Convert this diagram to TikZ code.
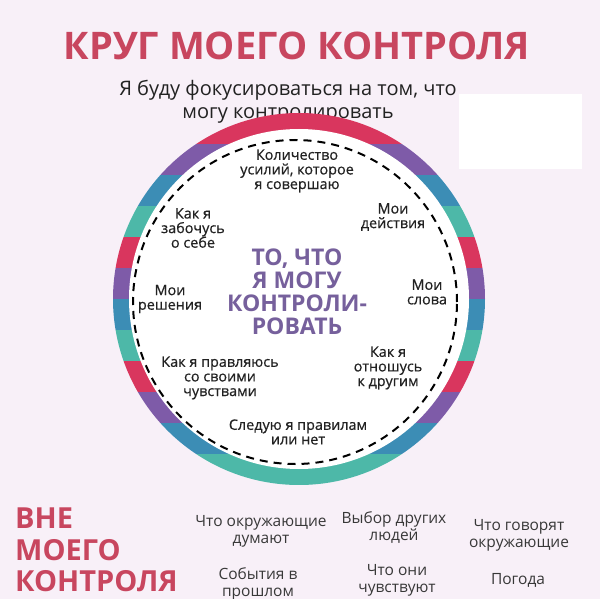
\documentclass[tikz,border=0pt]{standalone}
\usepackage{fontspec}
\setmainfont{Open Sans}
\newfontfamily\midfont[FakeBold=0.5]{Open Sans}
\definecolor{bgpink}{HTML}{F8F0F8}
\definecolor{titlered}{HTML}{C8465F}
\definecolor{ringred}{HTML}{D9365E}
\definecolor{ringpurple}{HTML}{7E5BA8}
\definecolor{ringblue}{HTML}{3C8DB5}
\definecolor{ringteal}{HTML}{4DB8A8}
\definecolor{midpurple}{HTML}{76609C}
\definecolor{inktext}{HTML}{222222}
\begin{document}
\begin{tikzpicture}[x=1pt,y=-1pt,
  inner/.style={align=center,inner sep=0pt,text=inktext,font=\midfont\fontsize{14.4}{14.6}\selectfont},
  outer/.style={align=center,inner sep=0pt,text=inktext!90,font=\fontsize{15.5}{17}\selectfont}]
  \useasboundingbox (0,0) rectangle (600,599);
	\fill[bgpink] (0,0) rectangle (600,599);
	\fill[white] (459,94) rectangle (582,169);
  % heading
  	\node (title) [anchor=center,text=titlered,font=\fontsize{38}{40}\selectfont\bfseries] at (297,46) {КРУГ МОЕГО КОНТРОЛЯ};
	 \node (subtitle) [anchor=center,align=center,inner sep=0pt,text=inktext,font=\fontsize{20}{23}\selectfont] at (288,102) {Я буду фокусироваться на том, что\\могу контролировать};
  % ring
	 \coordinate (c) at (299,299);
	 \begin{scope}
	  \clip (c) circle[radius=186pt];
	  \foreach \col [count=\i from 0] in {ringred,ringpurple,ringblue,ringteal,ringred,ringpurple,ringblue,ringteal,ringred,ringpurple,ringblue,ringteal}
	   \fill[\col] (110,113+31*\i) rectangle (490,144+31*\i);
	 \end{scope}
	 \fill[white] (c) circle[radius=170pt];
	 \draw[black,line width=2pt,dash pattern=on 8pt off 6pt] (295,302) circle[radius=162pt];
  % inside
	 \node (effort) [inner] at (297,171) {Количество\\усилий, которое\\я совершаю};
	 \node (selfcare) [inner] at (193,228) {Как я\\забочусь\\о себе};
	 \node (actions) [inner] at (393,217) {Мои\\действия};
	 \node (center) [anchor=center,align=center,inner sep=0pt,text=midpurple,font=\fontsize{23}{23}\selectfont\bfseries] at (297,292) {ТО, ЧТО\\Я МОГУ\\КОНТРОЛИ-\\РОВАТЬ};
	 \node (decisions) [inner] at (170,299) {Мои\\решения};
	 \node (words) [inner] at (427,292) {Мои\\слова};
	 \node (feelings) [inner] at (220,378) {Как я правляюсь\\со своими\\чувствами};
	 \node (others) [inner] at (388,368) {Как я\\отношусь\\к другим};
	 \node (rules) [inner] at (298,432) {Следую я правилам\\или нет};
  % outside
	 \node (outside) [anchor=west,align=left,inner sep=0pt,text=titlered,font=\fontsize{29}{31.5}\selectfont\bfseries] at (15,550) {ВНЕ\\МОЕГО\\КОНТРОЛЯ};
	 \node (think) [outer] at (261,531) {Что окружающие\\думают};
	 \node (choices) [outer] at (394,527) {Выбор других\\людей};
	 \node (say) [outer] at (519,535) {Что говорят\\окружающие};
	 \node (past) [outer] at (258,584) {События в\\прошлом};
	 \node (feel) [outer] at (397,580) {Что они\\чувствуют};
	 \node (weather) [outer] at (518,580) {Погода};
\end{tikzpicture}
\end{document}
